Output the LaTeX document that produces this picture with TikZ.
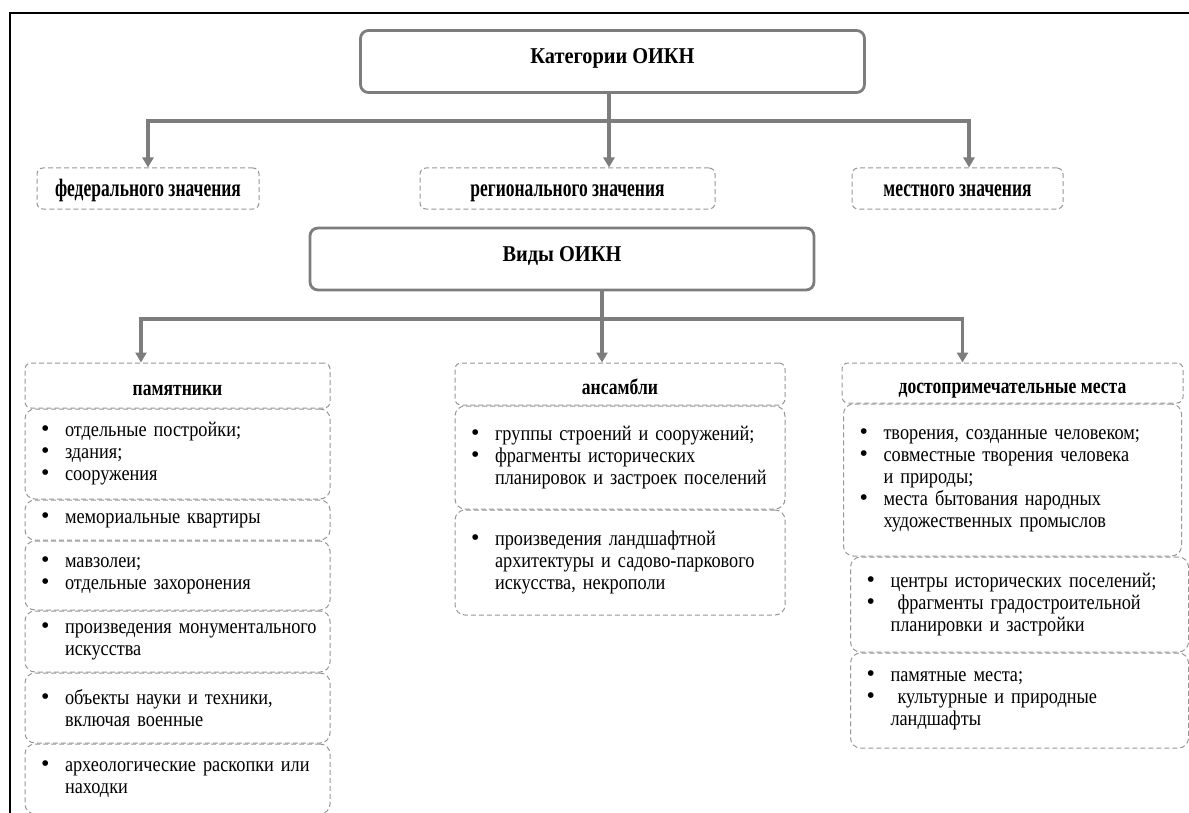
\documentclass[tikz,border=0pt]{standalone}
\usepackage{fontspec}
\setmainfont{Liberation Serif}
\newfontfamily\itemfont[FakeStretch=0.87,WordSpace=0.8]{Liberation Serif}
\newfontfamily\catfont[FakeStretch=0.7]{Liberation Serif}
\newfontfamily\headfont[FakeStretch=0.8]{Liberation Serif}
\newfontfamily\mainfont[FakeStretch=0.9]{Liberation Serif}
\usetikzlibrary{positioning,arrows.meta}
\definecolor{boxgray}{RGB}{125,125,125}
\definecolor{dashgray}{RGB}{150,150,150}
\newcommand{\bitem}[1]{\noindent\hangindent=18pt\hangafter=1\makebox[18pt][l]{\kern6pt\rmfamily\fontsize{12}{11}\selectfont\textbullet}#1\par}
\tikzset{
	mainbox/.style={draw=boxgray,line width=1.4pt,rounded corners=4pt,minimum width=252pt,minimum height=31pt,text height=8pt,text depth=6pt,font=\mainfont\fontsize{11.3}{13}\selectfont\bfseries},
	catbox/.style={draw=dashgray,dashed,dash pattern=on 2.5pt off 1.5pt,line width=0.5pt,rounded corners=3pt,minimum height=20.5pt,text height=10pt,text depth=1.7pt,font=\catfont\fontsize{12.5}{14}\selectfont\bfseries},
	headbox/.style={draw=dashgray,dashed,dash pattern=on 2.5pt off 1.5pt,line width=0.5pt,rounded corners=3pt,minimum height=#1,text height=11pt,text depth=1pt,font=\headfont\fontsize{11}{13}\selectfont\bfseries},
	itembox/.style={draw=dashgray,dashed,dash pattern=on 2.5pt off 1.5pt,line width=0.5pt,rounded corners=5pt,align=left,inner xsep=2pt,inner ysep=2pt,minimum height=#1,font=\itemfont\fontsize{10.5}{11}\selectfont},
	arr/.style={draw=boxgray,line width=1.6pt,-{Triangle[length=5pt,width=5.5pt]}}
}
\begin{document}
\begin{tikzpicture}[x=0.5pt,y=-0.5pt]
	\useasboundingbox (0,0) rectangle (1189,813);
	\draw[line width=0.9pt] (1189,13) -- (10,13) -- (10,813);
	
	\node[mainbox] (cat) at (612.5,61.5) {Категории ОИКН};
	\node[catbox,minimum width=111pt] (fed) at (148,188.5) {федерального значения};
	\node[catbox,minimum width=147.5pt] (reg) at (567.5,188.5) {регионального значения};
	\node[catbox,minimum width=105.5pt] (mest) at (957.5,188.5) {местного значения};
	\node[mainbox] (vid) at (562,259) {Виды ОИКН};
	
	\coordinate (j1) at (609,121);
	\draw[arr] (cat.south -| j1) -- (j1 |- reg.north);
	\draw[arr] (j1) -| (fed.north);
	\draw[arr] (j1) -| ([xshift=5.75pt]mest.north);
	
	\node[headbox=22.5pt,minimum width=152.5pt] (pam) at (177.5,385.5) {памятники};
	\node[itembox=45pt,text width=148.5pt,below=0pt of pam] (p1) {\bitem{отдельные постройки;}\bitem{здания;}\bitem{сооружения}};
	\node[itembox=20pt,text width=148.5pt,below=0pt of p1] (p2) {\bitem{мемориальные квартиры}};
	\node[itembox=34.5pt,text width=148.5pt,below=0pt of p2] (p3) {\bitem{мавзолеи;}\bitem{отдельные захоронения}};
	\node[itembox=30.5pt,text width=148.5pt,below=0pt of p3] (p4) {\bitem{произведения монументального\newline искусства}};
	\node[itembox=35pt,text width=148.5pt,below=0pt of p4] (p5) {\bitem{объекты науки и техники,\newline включая военные}};
	\node[itembox=35pt,text width=148.5pt,below=0pt of p5] (p6) {\bitem{археологические раскопки или\newline находки}};
	
	\node[headbox=21pt,minimum width=165pt] (ans) at (620,384) {ансамбли};
	\node[itembox=51.5pt,text width=161pt,below=0pt of ans] (a1) {\bitem{группы строений и сооружений;}\bitem{фрагменты исторических\newline планировок и застроек поселений}\vspace{7pt}};
	\node[itembox=52.5pt,text width=161pt,below=0pt of a1] (a2) {\bitem{произведения ландшафтной\newline архитектуры и садово-паркового\newline искусства, некрополи}\vspace{7pt}};
	
	\node[headbox=20pt,minimum width=170.5pt] (dost) at (1012.5,383) {достопримечательные места};
	\node[itembox=76pt,text width=165pt,below=0pt of dost] (d1) {\bitem{творения, созданные человеком;}\bitem{совместные творения человека\newline и природы;}\bitem{места бытования народных\newline художественных промыслов}};
	\node[itembox=47.5pt,text width=165pt,below=0pt of d1,xshift=3.5pt] (d2) {\bitem{центры исторических поселений;}\bitem{\ фрагменты градостроительной\newline планировки и застройки}};
	\node[itembox=47.5pt,text width=165pt,below=0pt of d2] (d3) {\bitem{памятные места;}\bitem{\ культурные и природные\newline ландшафты}};
	
	\coordinate (j2) at (602,319);
	\draw[arr] (vid.south -| j2) -- (j2 |- ans.north);
	\draw[arr] (j2) -| ([xshift=-18.25pt]pam.north);
	\draw[arr] (j2) -| ([xshift=-25pt]dost.north);
\end{tikzpicture}
\end{document}
